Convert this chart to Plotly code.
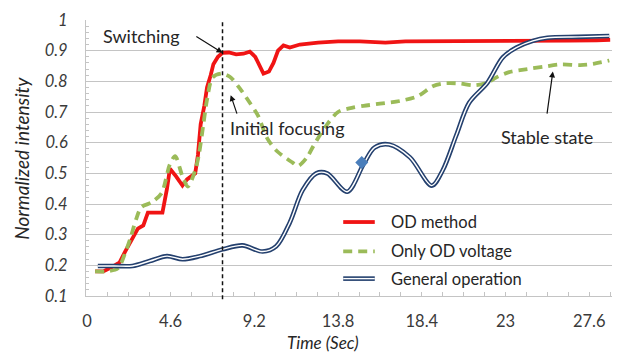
import plotly.graph_objects as go

# ---- data -------------------------------------------------------------
od_method_t = [0.45, 0.9, 1.4, 1.8, 2.1, 2.4, 2.8, 3.1, 3.35, 3.8, 4.15, 4.4, 4.56, 4.9,
               5.25, 5.5, 5.7, 5.95, 6.1, 6.25, 6.45, 6.6, 6.8, 6.95, 7.2, 7.45, 7.8,
               8.2, 8.6, 8.95, 9.25, 9.5, 9.7, 10.0, 10.25, 10.5, 10.8, 11.15, 11.7,
               12.7, 13.8, 15.0, 16.4, 17.5, 19.0, 20.5, 22.0, 23.5, 25.0, 26.5, 28.0, 28.75]
od_method_v = [0.18, 0.18, 0.195, 0.21, 0.245, 0.28, 0.32, 0.33, 0.372, 0.372, 0.372, 0.45, 0.515, 0.49,
               0.46, 0.48, 0.49, 0.50, 0.56, 0.66, 0.72, 0.78, 0.82, 0.856, 0.88, 0.893, 0.894,
               0.888, 0.89, 0.897, 0.88, 0.85, 0.825, 0.832, 0.86, 0.9, 0.917, 0.91, 0.92,
               0.926, 0.93, 0.93, 0.926, 0.93, 0.93, 0.93, 0.93, 0.932, 0.932, 0.933, 0.934, 0.935]

od_voltage_t = [0.45, 1.0, 1.7, 2.1, 2.4, 2.7, 3.0, 3.55, 4.1, 4.56, 4.85, 5.25, 5.55, 5.95,
                6.15, 6.4, 6.6, 6.9, 7.4, 7.85, 8.4, 8.95, 9.4, 9.9, 10.45, 11.3, 11.6,
                12.1, 12.45, 13.2, 13.8, 14.6, 15.2, 16.1, 17.2, 18.2, 19.0, 19.55, 20.5,
                21.2, 22.0, 22.5, 23.2, 24.2, 25.05, 26.0, 27.1, 27.8, 28.7]
od_voltage_v = [0.18, 0.18, 0.19, 0.24, 0.29, 0.35, 0.39, 0.405, 0.435, 0.53, 0.556, 0.49, 0.457, 0.51,
                0.56, 0.66, 0.74, 0.812, 0.825, 0.815, 0.777, 0.73, 0.688, 0.615, 0.572, 0.535, 0.524,
                0.553, 0.59, 0.66, 0.70, 0.714, 0.72, 0.727, 0.736, 0.752, 0.784, 0.793, 0.793,
                0.787, 0.795, 0.813, 0.83, 0.84, 0.847, 0.855, 0.853, 0.857, 0.868]

general_t = [0.6, 1.5, 2.5, 3.45, 4.4, 5.25, 6.2, 7.45, 8.55, 9.65, 10.4, 11.15, 11.85, 12.6,
             13.2, 14.3, 15.2, 15.8, 16.6, 17.75, 18.95, 19.55, 20.3, 21.0, 22.0, 22.85,
             23.6, 24.5, 25.3, 27.0, 28.7]
general_v = [0.198, 0.198, 0.198, 0.214, 0.23, 0.22, 0.23, 0.252, 0.265, 0.245, 0.262, 0.34, 0.445, 0.5,
             0.5, 0.44, 0.53, 0.584, 0.594, 0.552, 0.46, 0.51, 0.625, 0.73, 0.795, 0.878,
             0.91, 0.932, 0.942, 0.945, 0.948]

# highlighted sample on the general-operation curve
marker_t = [15.1]
marker_v = [0.535]

switch_t = 7.45

x_tickvals = [0, 4.6, 9.2, 13.8, 18.4, 23, 27.6]
x_ticktext = ["0", "4.6", "9.2", "13.8", "18.4", "23", "27.6"]
y_tickvals = [0.1, 0.2, 0.3, 0.4, 0.5, 0.6, 0.7, 0.8, 0.9, 1.0]
y_ticktext = ["0.1", "0.2", "0.3", "0.4", "0.5", "0.6", "0.7", "0.8", "0.9", "1"]

series_names = ["OD method", "Only OD voltage", "General operation"]

# ---- styling ----------------------------------------------------------
FONT = "Lato"
RED = "#f01414"
GREEN = "#9bbb59"
NAVY = "#24406e"
GRID = "#c4c4c4"
TEXT = "#262626"

fig = go.Figure()

fig.add_trace(go.Scatter(x=od_method_t, y=od_method_v, mode="lines",
                         line=dict(color=RED, width=3.8), showlegend=False))
fig.add_trace(go.Scatter(x=od_voltage_t, y=od_voltage_v, mode="lines",
                         line=dict(color=GREEN, width=3.8, dash="9px,6px",
                                   shape="spline", smoothing=0.8), showlegend=False))
# double line: dark outer stroke with a white core
fig.add_trace(go.Scatter(x=general_t, y=general_v, mode="lines",
                         line=dict(color=NAVY, width=4.6, shape="spline", smoothing=0.9),
                         showlegend=False))
fig.add_trace(go.Scatter(x=general_t, y=general_v, mode="lines",
                         line=dict(color="white", width=1.4, shape="spline", smoothing=0.9),
                         showlegend=False))
fig.add_trace(go.Scatter(x=marker_t, y=marker_v, mode="markers",
                         marker=dict(symbol="diamond", size=10, color="#4a7ebb"),
                         showlegend=False))

# switching instant
fig.add_shape(type="line", xref="x", yref="paper", x0=switch_t, x1=switch_t, y0=-0.012, y1=1,
              line=dict(color="#111111", width=1.5, dash="4px,3px"))

# hand-drawn style legend (plot-area fractions)
leg_x0, leg_x1, leg_tx = 0.489, 0.549, 0.576
leg_rows = [0.268, 0.162, 0.063]
fig.add_shape(type="line", xref="paper", yref="paper", x0=leg_x0, x1=leg_x1,
              y0=leg_rows[0], y1=leg_rows[0], line=dict(color=RED, width=3.8))
fig.add_shape(type="line", xref="paper", yref="paper", x0=leg_x0, x1=leg_x1,
              y0=leg_rows[1], y1=leg_rows[1], line=dict(color=GREEN, width=3.8, dash="9px,6px"))
fig.add_shape(type="line", xref="paper", yref="paper", x0=leg_x0, x1=leg_x1,
              y0=leg_rows[2], y1=leg_rows[2], line=dict(color=NAVY, width=4.6))
fig.add_shape(type="line", xref="paper", yref="paper", x0=leg_x0, x1=leg_x1,
              y0=leg_rows[2], y1=leg_rows[2], line=dict(color="white", width=1.4))
for name, row in zip(series_names, leg_rows):
    fig.add_annotation(xref="paper", yref="paper", x=leg_tx, y=row, text=name,
                       showarrow=False, xanchor="left", yanchor="middle",
                       font=dict(family=FONT, size=16.5, color=TEXT))

# callouts
arrow = dict(showarrow=True, arrowhead=2, arrowsize=1, arrowwidth=1.2,
             arrowcolor="#111111", text="", axref="x", ayref="y", standoff=0)
fig.add_annotation(x=switch_t, y=0.893, ax=5.93, ay=0.949, **arrow)
fig.add_annotation(x=7.9, y=0.755, ax=8.27, ay=0.69, **arrow)
fig.add_annotation(x=25.6, y=0.832, ax=25.27, ay=0.69, **arrow)

label_font = dict(family=FONT, size=18, color=TEXT)
fig.add_annotation(x=3.02, y=0.949, text="Switching", showarrow=False, font=label_font)
fig.add_annotation(x=11.0, y=0.648, text="Initial focusing", showarrow=False, font=label_font)
fig.add_annotation(x=25.3, y=0.62, text="Stable state", showarrow=False, font=label_font)

# axis titles
fig.add_annotation(xref="paper", yref="paper", x=0.45, y=-0.168, text="Time (Sec)",
                   showarrow=False, yanchor="middle",
                   font=dict(family=FONT, size=17, color=TEXT, style="italic"))
fig.add_annotation(xref="paper", yref="paper", x=-0.124, y=0.5, text="Normalized intensity",
                   showarrow=False, textangle=-90, xanchor="center", yanchor="middle",
                   font=dict(family=FONT, size=19, color=TEXT, style="italic"))

fig.update_layout(
    width=622, height=361,
    margin=dict(l=86, r=10, t=12, b=65),
    paper_bgcolor="white", plot_bgcolor="white",
    font=dict(family=FONT, color="#404040"),
    showlegend=False,
)
fig.update_xaxes(
    range=[-0.05, 28.85], tickvals=x_tickvals, ticktext=x_ticktext,
    showgrid=False, zeroline=False, showline=True, linecolor=GRID, linewidth=1,
    ticks="inside", ticklen=4, tickcolor=GRID, ticklabelstandoff=10,
    tickfont=dict(family=FONT, size=16.5, color="#3a3a3a"),
    minor=dict(dtick=1.15, tick0=0, ticks="inside", ticklen=4, tickcolor=GRID, showgrid=False),
)
fig.update_yaxes(
    range=[0.1, 1.0], tickvals=y_tickvals, ticktext=y_ticktext,
    showgrid=True, gridcolor=GRID, gridwidth=1, zeroline=False,
    showline=True, linecolor=GRID, linewidth=1,
    ticks="inside", ticklen=4, tickcolor=GRID, ticklabelstandoff=14,
    tickfont=dict(family=FONT, size=16.5, color="#3a3a3a", style="italic"),
    minor=dict(dtick=0.02, tick0=0.1, ticks="inside", ticklen=3, tickcolor=GRID, showgrid=False),
)

fig.write_html("out.html")
